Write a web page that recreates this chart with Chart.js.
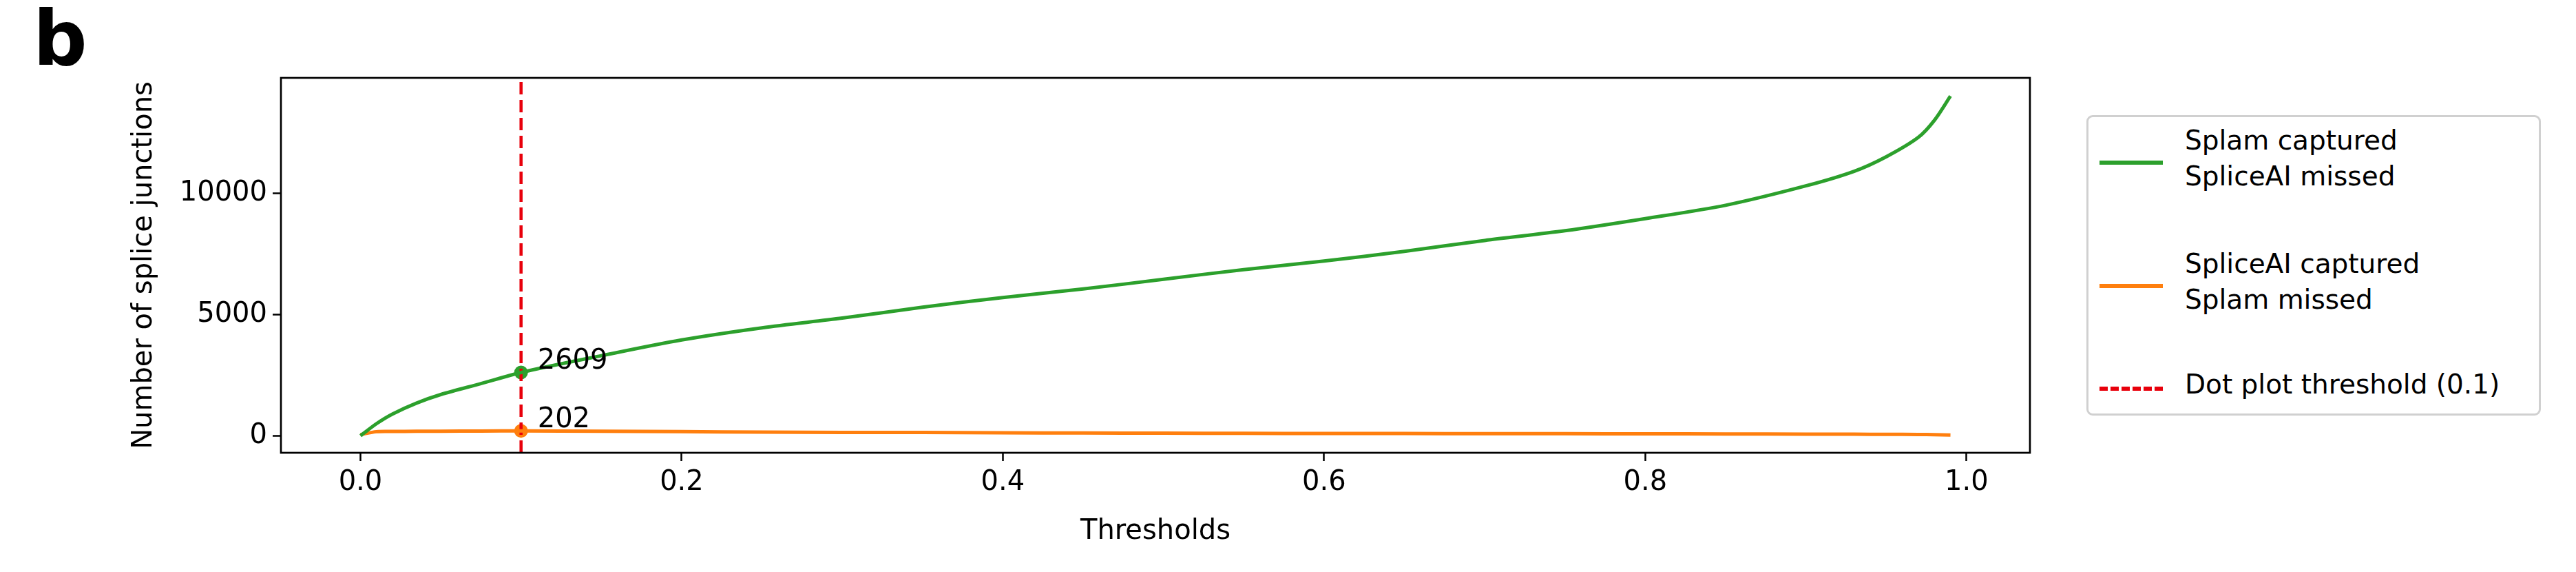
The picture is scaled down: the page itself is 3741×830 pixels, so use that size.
<!DOCTYPE html>
<html>
<head>
<meta charset="utf-8">
<script src="https://cdn.jsdelivr.net/npm/chart.js@4/dist/chart.umd.min.js"></script>
<style>
  body { margin: 0; width: 3741px; height: 830px; background: #fff; position: relative; overflow: hidden;
         font-family: "DejaVu Sans", sans-serif; }
  #wrap { position: absolute; left: 0; top: 0; width: 3000px; height: 830px; }
  #panel { position: absolute; left: 48px; top: -8px; font-size: 110px; font-weight: bold; }
  #legend { position: absolute; left: 3030px; top: 167px; width: 654px; height: 430px;
            border: 3px solid #d0d0d0; border-radius: 9px; font-size: 39px; }
  .item { position: absolute; left: 16px; }
  .item .h { position: absolute; left: 0; width: 92px; height: 0; }
  .item .t { position: absolute; left: 124px; line-height: 52px; white-space: nowrap; }
</style>
</head>
<body>
<div id="panel">b</div>
<div id="wrap"><canvas id="c"></canvas></div>
<div id="legend">
  <div class="item" style="top:63px"><div class="h" style="border-top:6px solid #2ca02c;top:0"></div>
    <div class="t" style="top:-55px">Splam captured<br>SpliceAI missed</div></div>
  <div class="item" style="top:242px"><div class="h" style="border-top:6px solid #ff7f0e;top:0"></div>
    <div class="t" style="top:-55px">SpliceAI captured<br>Splam missed</div></div>
  <div class="item" style="top:391px"><div class="h" style="border-top:6px dashed #e8000b;top:0"></div>
    <div class="t" style="top:-29px">Dot plot threshold (0.1)</div></div>
</div>
<script>
// 阈值
const thresholds = [0, 0.01, 0.02, 0.035, 0.05, 0.075, 0.1, 0.15, 0.2, 0.25, 0.3, 0.35, 0.4, 0.45, 0.5, 0.55, 0.6, 0.65, 0.7, 0.75, 0.8, 0.85, 0.9, 0.93, 0.95, 0.97, 0.98, 0.99];
// Splam captured / SpliceAI missed
const splamOnly = [0, 500, 900, 1350, 1700, 2150, 2609, 3300, 3950, 4450, 4850, 5300, 5700, 6050, 6450, 6850, 7200, 7600, 8050, 8450, 8950, 9500, 10300, 10900, 11500, 12300, 13000, 14000];
// SpliceAI captured / Splam missed
const spliceaiOnly = [50, 170, 180, 185, 190, 198, 202, 190, 170, 155, 140, 135, 125, 115, 110, 100, 95, 92, 90, 85, 80, 75, 70, 65, 60, 55, 45, 30];
const cutoff = 0.1;
const cutoffPoints = [{ x: cutoff, y: 2609, label: '2609', color: '#2ca02c' },
                      { x: cutoff, y: 202, label: '202', color: '#ff7f0e' }];
const yTicks = [0, 5000, 10000];
const xTicks = [0, 0.2, 0.4, 0.6, 0.8, 1.0];

const font = { family: 'DejaVu Sans', size: 40 };

// 外框和点标注
const framePlugin = {
  id: 'frame',
  afterDatasetsDraw(chart) {
    const { ctx, chartArea: a, scales } = chart;
    ctx.save();
    ctx.strokeStyle = '#000';
    ctx.lineWidth = 2.7;
    ctx.strokeRect(a.left, a.top, a.right - a.left, a.bottom - a.top);
    ctx.font = '40px DejaVu Sans';
    ctx.fillStyle = '#000';
    ctx.textBaseline = 'bottom';
    cutoffPoints.forEach(p => {
      const px = scales.x.getPixelForValue(p.x), py = scales.y.getPixelForValue(p.y);
      ctx.fillText(p.label, px + 24, py + 4);
    });
    ctx.restore();
  }
};

new Chart(document.getElementById('c'), {
  type: 'scatter',
  data: {
    datasets: [
      { data: thresholds.map((x, i) => ({ x, y: splamOnly[i] })), showLine: true, borderColor: '#2ca02c', borderWidth: 5, pointRadius: 0, tension: 0.3 },
      { data: thresholds.map((x, i) => ({ x, y: spliceaiOnly[i] })), showLine: true, borderColor: '#ff7f0e', borderWidth: 5, pointRadius: 0, tension: 0.3 },
      { data: [{ x: cutoff, y: -700 }, { x: cutoff, y: 14750 }], showLine: true, borderColor: '#e8000b', borderWidth: 4.5, borderDash: [18, 8], pointRadius: 0 },
      { data: cutoffPoints.map(p => ({ x: p.x, y: p.y })), pointRadius: 10, pointBackgroundColor: cutoffPoints.map(p => p.color), pointBorderWidth: 0 }
    ]
  },
  options: {
    responsive: true, maintainAspectRatio: false, animation: false,
    layout: { padding: { left: 182, right: 52, top: 113, bottom: 30 } },
    plugins: { legend: { display: false }, tooltip: { enabled: false } },
    scales: {
      x: {
        type: 'linear', min: -0.0495, max: 1.0395,
        afterBuildTicks: s => { s.ticks = xTicks.map(v => ({ value: v })); },
        afterFit: s => { s.height = 143; },
        grid: { drawOnChartArea: false, color: '#000', tickLength: 12, tickWidth: 2.5 },
        border: { display: false },
        ticks: { font, color: '#000', padding: 8, callback: v => v.toFixed(1) },
        title: { display: true, text: 'Thresholds', font, color: '#000', padding: { top: 6 } }
      },
      y: {
        type: 'linear', min: -700, max: 14750,
        afterBuildTicks: s => { s.ticks = yTicks.map(v => ({ value: v })); },
        afterFit: s => { s.width = 226; },
        grid: { drawOnChartArea: false, color: '#000', tickLength: 12, tickWidth: 2.5 },
        border: { display: false },
        ticks: { font, color: '#000', padding: 8, callback: v => String(v) },
        title: { display: true, text: 'Number of splice junctions', font, color: '#000', padding: { bottom: 4 } }
      }
    }
  },
  plugins: [framePlugin]
});
</script>
</body>
</html>
